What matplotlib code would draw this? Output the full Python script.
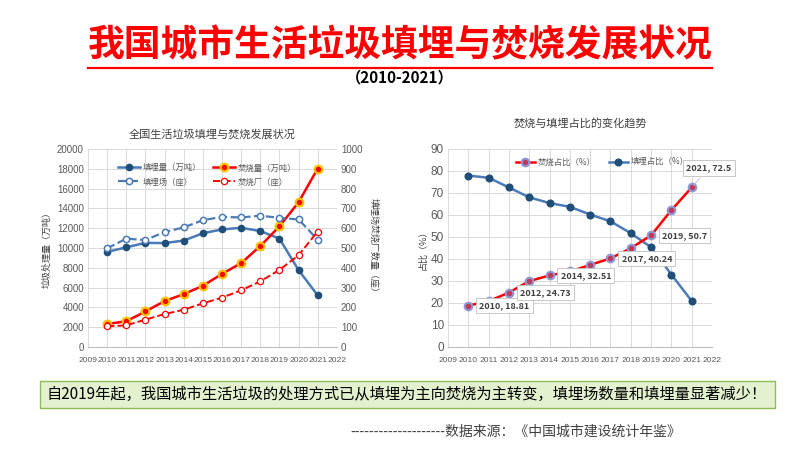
import matplotlib
matplotlib.use("Agg")
import matplotlib.pyplot as plt
from matplotlib.patches import FancyBboxPatch
from matplotlib.lines import Line2D
from matplotlib import font_manager

plt.rcParams['font.family'] = ['Noto Sans CJK SC', 'DejaVu Sans']

# === data ===
years = [2010, 2011, 2012, 2013, 2014, 2015, 2016, 2017, 2018, 2019, 2020, 2021]
landfill_vol = [9598, 10064, 10512, 10493, 10744, 11483, 11866, 12038, 11706, 10948, 7772, 5209]
incin_vol = [2317, 2599, 3584, 4634, 5330, 6176, 7378, 8463, 10185, 12174, 14608, 18020]
landfill_cnt = [498, 547, 540, 580, 604, 640, 657, 654, 663, 652, 644, 542]
incin_cnt = [104, 109, 138, 166, 188, 220, 249, 286, 331, 389, 463, 583]

incin_share = [18.81, 20.8, 24.73, 29.9, 32.51, 34.3, 37.3, 40.24, 44.9, 50.7, 62.2, 72.5]
landfill_share = [77.9, 76.9, 72.5, 68.0, 65.4, 63.7, 60.2, 57.1, 51.7, 45.3, 32.9, 20.9]
label_years = [2010, 2012, 2014, 2017, 2019, 2021]

xticks = list(range(2009, 2023))
GRAY = '#595959'
GRID = '#d9d9d9'

# narrow font for the crowded year ticks, if one is installed
_names = {f.name for f in font_manager.fontManager.ttflist}
TICKFONT = 'Liberation Sans'
XSIZE = 6.1
for cand in ['Liberation Sans Narrow', 'DejaVu Sans Condensed']:
    if cand in _names:
        TICKFONT = cand
        XSIZE = 7
        break

fig = plt.figure(figsize=(8, 4.5), dpi=100)
fig.patch.set_facecolor('white')

# --- header ---
fig.text(0.5, 0.898, "我国城市生活垃圾填埋与焚烧发展状况", ha='center', va='center',
         fontsize=26.5, fontweight='bold', color='#ff0000')
fig.add_artist(Line2D([0.11, 0.89], [0.849, 0.849], color='#ff0000', lw=1.6))
fig.text(0.5, 0.827, "（2010-2021）", ha='center', va='center', fontsize=11,
         fontweight='bold', color='black')


def style_axes(ax, ysize=7):
    ax.set_xlim(2009, 2022)
    ax.set_xticks(xticks)
    ax.tick_params(axis='both', colors=GRAY, length=0, pad=3)
    ax.tick_params(axis='x', pad=7)
    for lab in ax.get_xticklabels():
        lab.set_fontfamily(TICKFONT)
        lab.set_fontsize(XSIZE)
    for lab in ax.get_yticklabels():
        lab.set_fontfamily(TICKFONT)
        lab.set_fontsize(ysize)
    ax.grid(True, color=GRID, lw=0.7)
    ax.set_axisbelow(True)
    for s in ['top', 'left', 'right']:
        ax.spines[s].set_visible(False)
    ax.spines['bottom'].set_color('#bfbfbf')


# --- left chart ---
ax1 = fig.add_axes([0.11, 0.229, 0.311, 0.44])
ax1.set_ylim(0, 20000)
ax1.set_yticks(range(0, 20001, 2000))
style_axes(ax1)
ax2 = ax1.twinx()
ax2.set_ylim(0, 1000)
ax2.set_yticks(range(0, 1001, 100))
ax2.tick_params(axis='y', colors=GRAY, length=0, pad=3)
for lab in ax2.get_yticklabels():
    lab.set_fontfamily(TICKFONT)
    lab.set_fontsize(7)
for s in ax2.spines.values():
    s.set_visible(False)

h1, = ax1.plot(years, landfill_vol, color='#4a7ab8', lw=1.8, marker='o', ms=4.5,
               mfc='#1f4e79', mec='#1f4e79', label='填埋量（万吨）')
h2, = ax1.plot(years, incin_vol, color='#ff0000', lw=1.8, marker='o', ms=5.5,
               mfc='#ff0000', mec='#ffc000', mew=1.6, label='焚烧量（万吨）', zorder=4)
h3, = ax2.plot(years, landfill_cnt, color='#4a7ab8', lw=1.6, ls='--', marker='o', ms=4.5,
               mfc='white', mec='#4a7ab8', mew=1.1, label='填埋场（座）')
h4, = ax2.plot(years, incin_cnt, color='#ff0000', lw=1.4, ls='--', marker='o', ms=4.5,
               mfc='white', mec='#ff0000', mew=0.9, label='焚烧厂（座）')

ax1.set_title("全国生活垃圾填埋与焚烧发展状况", fontsize=8, color='#404040', pad=8)
ax1.set_ylabel("垃圾处理量（万吨）", fontsize=6.5, color='#404040', labelpad=4)
ax2.set_ylabel("填埋场焚烧厂数量（座）", fontsize=6.5, color='#404040', rotation=270, labelpad=11)
ax1.legend([h1, h3, h2, h4], [h.get_label() for h in [h1, h3, h2, h4]], ncol=2,
           loc='upper left', bbox_to_anchor=(0.09, 0.965), frameon=False, fontsize=6,
           labelcolor='#595959', columnspacing=1.4, handlelength=2.6, handletextpad=0.4,
           labelspacing=0.6)

# --- right chart ---
ax3 = fig.add_axes([0.56, 0.229, 0.33, 0.44])
ax3.set_ylim(0, 90)
ax3.set_yticks(range(0, 91, 10))
style_axes(ax3, ysize=8.5)

g1, = ax3.plot(years, incin_share, color='#ff0000', lw=1.8, marker='o', ms=5.5,
               mfc='#c0395a', mec='#8e9ad6', mew=1.5, label='焚烧占比（%）', zorder=4)
g2, = ax3.plot(years, landfill_share, color='#4a7ab8', lw=1.8, marker='o', ms=4.8,
               mfc='#1f4e79', mec='#1f4e79', label='填埋占比（%）', zorder=3)

for yr in label_years:
    v = incin_share[years.index(yr)]
    if yr == 2021:
        off = (-4, 14)
    else:
        off = (8, 0)
    ax3.annotate(f"{yr}, {v:g}", xy=(yr, v), xytext=off, textcoords='offset points',
                 ha='left', va='center', fontsize=6.5, fontweight='bold', color='#404040',
                 annotation_clip=False, zorder=6,
                 bbox=dict(boxstyle='square,pad=0.35', fc='white', ec='#bfbfbf', lw=0.6),
                 arrowprops=dict(arrowstyle='-', color='#bfbfbf', lw=0.6) if yr == 2021 else None)

ax3.set_title("焚烧与填埋占比的变化趋势", fontsize=8, color='#404040', pad=16)
ax3.set_ylabel("占比（%）", fontsize=6.5, color='#404040', labelpad=2)
ax3.legend(ncol=2, loc='upper left', bbox_to_anchor=(0.23, 0.995), frameon=False,
           fontsize=6, labelcolor='#595959', columnspacing=1.6, handlelength=2.2,
           handletextpad=0.4)

# --- conclusion box ---
box = FancyBboxPatch((0.05, 0.093), 0.919, 0.06, boxstyle='square,pad=0',
                     transform=fig.transFigure, fc='#e3f1cf', ec='#8dbb5a', lw=1.0)
fig.add_artist(box)
fig.text(0.058, 0.123,
         "自2019年起，我国城市生活垃圾的处理方式已从填埋为主向焚烧为主转变，填埋场数量和填埋量显著减少！",
         ha='left', va='center', fontsize=11, color='black')

fig.text(0.438, 0.04, "--------------------数据来源：《中国城市建设统计年鉴》",
         ha='left', va='center', fontsize=10, color='#404040')

fig.savefig("out.png", dpi=100, facecolor='white')
